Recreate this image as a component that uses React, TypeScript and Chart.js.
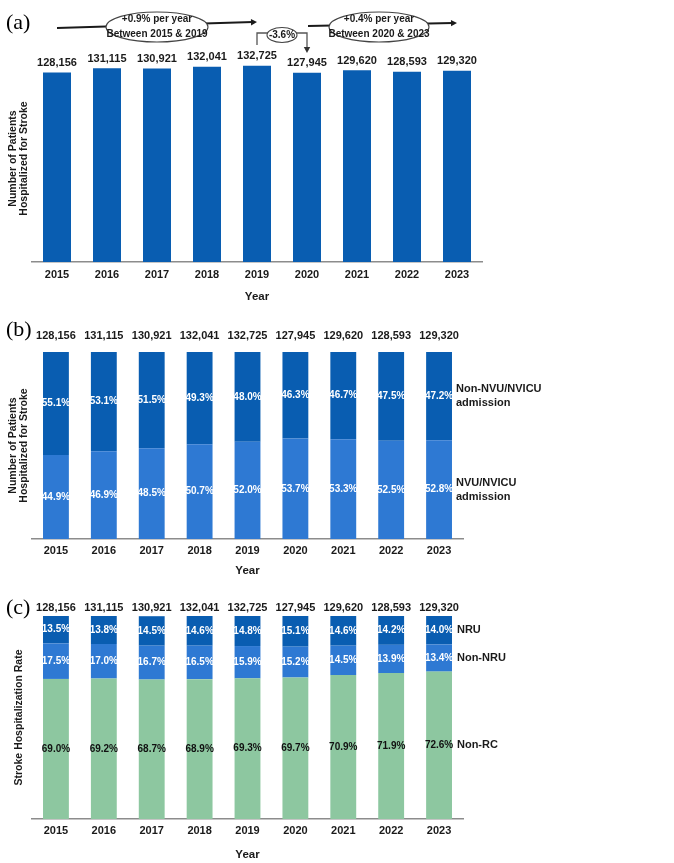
import { useEffect, useRef } from "react";
import { Chart, registerables } from "chart.js";

Chart.register(...registerables);

const years = ["2015", "2016", "2017", "2018", "2019", "2020", "2021", "2022", "2023"];
const totalPatients = [128156, 131115, 130921, 132041, 132725, 127945, 129620, 128593, 129320];
const nvuShare = [44.9, 46.9, 48.5, 50.7, 52.0, 53.7, 53.3, 52.5, 52.8];
const nonNvuShare = [55.1, 53.1, 51.5, 49.3, 48.0, 46.3, 46.7, 47.5, 47.2];
const nonRcShare = [69.0, 69.2, 68.7, 68.9, 69.3, 69.7, 70.9, 71.9, 72.6];
const nonNruShare = [17.5, 17.0, 16.7, 16.5, 15.9, 15.2, 14.5, 13.9, 13.4];
const nruShare = [13.5, 13.8, 14.5, 14.6, 14.8, 15.1, 14.6, 14.2, 14.0];
const trendNotes = [
  ["+0.9% per year", "Between 2015 & 2019"],
  ["+0.4% per year", "Between 2020 & 2023"],
];
const dropNote = "-3.6%";

const F = "'Liberation Sans', Arial, sans-serif";
const SERIF = "'Liberation Serif', 'DejaVu Serif', serif";
const TXT = "#1a1a1a";
const DARK = "#095db1";
const MID = "#2e79d3";
const GREEN = "#8dc7a0";

function fmt(n: number) {
  return n.toLocaleString("en-US");
}

function xScale(tickPad: number, titlePad: number, h: number) {
  return {
    stacked: true,
    offset: true,
    grid: { display: false, drawTicks: false },
    border: { display: true, color: "#8c8c8c", width: 1.5 },
    ticks: { color: TXT, font: { family: F, weight: "bold", size: 11, lineHeight: 1.2 }, padding: tickPad },
    title: {
      display: true,
      text: "Year",
      color: TXT,
      font: { family: F, weight: "bold", size: 11.5, lineHeight: 1.2 },
      padding: { top: 0, bottom: titlePad },
    },
    afterFit: (s: any) => {
      s.height = h;
    },
  };
}

function yScale(max: number, text: string | string[], padTop: number) {
  return {
    stacked: true,
    min: 0,
    max,
    grid: { display: false, drawTicks: false },
    border: { display: false },
    ticks: { display: false },
    title: {
      display: true,
      text,
      color: TXT,
      font: { family: F, weight: "bold", size: 10.5, lineHeight: 1.1 },
      padding: { top: padTop, bottom: 0 },
    },
    afterFit: (s: any) => {
      s.width = 32;
    },
  };
}

function labelsPlugin(panel: string, panelY: number, totalGap: number, sideGap: number) {
  return {
    id: "labels" + panel,
    afterDraw(chart: any) {
      const ctx = chart.ctx;
      ctx.save();
      ctx.font = `22px ${SERIF}`;
      ctx.fillStyle = "#000";
      ctx.textAlign = "left";
      ctx.textBaseline = "middle";
      ctx.fillText(`(${panel})`, 6, panelY);

      const metas = chart.data.datasets.map((_: any, i: number) => chart.getDatasetMeta(i));
      ctx.textAlign = "center";
      ctx.textBaseline = "middle";
      chart.data.datasets.forEach((ds: any, di: number) => {
        if (!ds.labelColor) return;
        ctx.font = `bold 10px ${F}`;
        ctx.fillStyle = ds.labelColor;
        metas[di].data.forEach((el: any, i: number) => {
          const v = ds.data[i];
          ctx.fillText(v.toFixed(1) + "%", el.x, (el.y + el.base) / 2);
        });
      });
      ctx.font = `bold 11px ${F}`;
      ctx.fillStyle = TXT;
      totalPatients.forEach((t, i) => {
        let top = Infinity;
        let x = 0;
        metas.forEach((m: any) => {
          const el = m.data[i];
          if (el && el.y < top) {
            top = el.y;
            x = el.x;
          }
        });
        ctx.fillText(fmt(t), x, top - totalGap);
      });
      ctx.textAlign = "left";
      ctx.font = `bold 11px ${F}`;
      chart.data.datasets.forEach((ds: any, di: number) => {
        if (!ds.sideLabel) return;
        const els = metas[di].data;
        const el = els[els.length - 1];
        const cy = (el.y + el.base) / 2;
        const lines: string[] = ds.sideLabel;
        const lh = 14;
        lines.forEach((ln, k) => {
          ctx.fillText(ln, el.x + el.width / 2 + sideGap, cy + (k - (lines.length - 1) / 2) * lh);
        });
      });
      ctx.restore();
    },
  };
}

function arrowHead(ctx: any, x: number, y: number, ang: number) {
  const L = 6;
  const W = 3.2;
  ctx.beginPath();
  ctx.moveTo(x, y);
  ctx.lineTo(x - L * Math.cos(ang) + W * Math.sin(ang), y - L * Math.sin(ang) - W * Math.cos(ang));
  ctx.lineTo(x - L * Math.cos(ang) - W * Math.sin(ang), y - L * Math.sin(ang) + W * Math.cos(ang));
  ctx.closePath();
  ctx.fill();
}

const trendPlugin = {
  id: "trend",
  afterDraw(chart: any) {
    const ctx = chart.ctx;
    const xs = chart.scales.x;
    const px = (i: number) => xs.getPixelForValue(i);
    ctx.save();
    ctx.strokeStyle = TXT;
    ctx.fillStyle = TXT;
    ctx.lineWidth = 2;
    const a1x0 = px(0), a1y0 = 28, a1x1 = px(4), a1y1 = 22;
    ctx.beginPath();
    ctx.moveTo(a1x0, a1y0);
    ctx.lineTo(a1x1 - 4, a1y1);
    ctx.stroke();
    arrowHead(ctx, a1x1, a1y1, Math.atan2(a1y1 - a1y0, a1x1 - a1x0));
    const a2x0 = px(5) + 1, a2y0 = 26, a2x1 = px(8), a2y1 = 23;
    ctx.beginPath();
    ctx.moveTo(a2x0, a2y0);
    ctx.lineTo(a2x1 - 4, a2y1);
    ctx.stroke();
    arrowHead(ctx, a2x1, a2y1, Math.atan2(a2y1 - a2y0, a2x1 - a2x0));
    const bx0 = px(4), bx1 = px(5);
    ctx.lineWidth = 1.3;
    ctx.strokeStyle = "#555";
    ctx.beginPath();
    ctx.moveTo(bx0, 45);
    ctx.lineTo(bx0, 33);
    ctx.lineTo(bx1, 33);
    ctx.lineTo(bx1, 47);
    ctx.stroke();
    ctx.fillStyle = "#333";
    arrowHead(ctx, bx1, 53, Math.PI / 2);

    const ell = (cx: number, cy: number, rx: number, ry: number) => {
      ctx.beginPath();
      ctx.ellipse(cx, cy, rx, ry, 0, 0, Math.PI * 2);
      ctx.fillStyle = "#fff";
      ctx.fill();
      ctx.strokeStyle = "#444";
      ctx.lineWidth = 1.1;
      ctx.stroke();
    };
    const e1x = px(2), e2x = (px(6) + px(7)) / 2 - 3, e3x = (bx0 + bx1) / 2;
    ell(e1x, 27, 51, 15);
    ell(e2x, 27, 50, 15);
    ell(e3x, 35, 15, 7.5);
    ctx.fillStyle = TXT;
    ctx.textAlign = "center";
    ctx.textBaseline = "middle";
    ctx.font = `bold 10px ${F}`;
    ctx.fillText(trendNotes[0][0], e1x, 19);
    ctx.fillText(trendNotes[0][1], e1x, 34);
    ctx.fillText(trendNotes[1][0], e2x, 19);
    ctx.fillText(trendNotes[1][1], e2x, 34);
    ctx.fillText(dropNote, e3x, 35.5);
    ctx.restore();
  },
};

const common = {
  responsive: false,
  maintainAspectRatio: false,
  animation: false,
  plugins: { legend: { display: false }, tooltip: { enabled: false } },
};

function makeA(canvas: HTMLCanvasElement) {
  return new Chart(canvas, {
    type: "bar",
    data: {
      labels: years,
      datasets: [
        { data: totalPatients, backgroundColor: DARK, borderWidth: 0, categoryPercentage: 1, barPercentage: 0.56 } as any,
      ],
    },
    options: {
      ...common,
      layout: { padding: { top: 55, right: 192, left: 0, bottom: 0 } },
      scales: {
        x: xScale(6.4, 6.1, 48) as any,
        y: yScale(140000, ["Number of Patients", "Hospitalized for Stroke"], 7.2) as any,
      },
    } as any,
    plugins: [labelsPlugin("a", 23, 9.5, 4), trendPlugin],
  });
}

function makeB(canvas: HTMLCanvasElement) {
  return new Chart(canvas, {
    type: "bar",
    data: {
      labels: years,
      datasets: [
        {
          data: nvuShare, backgroundColor: MID, borderWidth: 0, categoryPercentage: 1, barPercentage: 0.54,
          labelColor: "#ffffff", sideLabel: ["NVU/NVICU", "admission"],
        } as any,
        {
          data: nonNvuShare, backgroundColor: DARK, borderWidth: 0, categoryPercentage: 1, barPercentage: 0.54,
          labelColor: "#ffffff", sideLabel: ["Non-NVU/NVICU", "admission"],
        } as any,
      ],
    },
    options: {
      ...common,
      layout: { padding: { top: 42, right: 211, left: 0, bottom: 0 } },
      scales: {
        x: xScale(5.4, 7.1, 46) as any,
        y: yScale(100, ["Number of Patients", "Hospitalized for Stroke"], 7.2) as any,
      },
    } as any,
    plugins: [labelsPlugin("b", 20, 16, 4)],
  });
}

function makeC(canvas: HTMLCanvasElement) {
  return new Chart(canvas, {
    type: "bar",
    data: {
      labels: years,
      datasets: [
        {
          data: nonRcShare, backgroundColor: GREEN, borderWidth: 0, categoryPercentage: 1, barPercentage: 0.54,
          labelColor: "#111111", sideLabel: ["Non-RC"],
        } as any,
        {
          data: nonNruShare, backgroundColor: MID, borderWidth: 0, categoryPercentage: 1, barPercentage: 0.54,
          labelColor: "#ffffff", sideLabel: ["Non-NRU"],
        } as any,
        {
          data: nruShare, backgroundColor: DARK, borderWidth: 0, categoryPercentage: 1, barPercentage: 0.54,
          labelColor: "#ffffff", sideLabel: ["NRU"],
        } as any,
      ],
    },
    options: {
      ...common,
      layout: { padding: { top: 31, right: 211, left: 0, bottom: 0 } },
      scales: {
        x: xScale(5.4, 1.1, 44) as any,
        y: yScale(100, "Stroke Hospitalization Rate", 13.2) as any,
      },
    } as any,
    plugins: [labelsPlugin("c", 23, 8, 5)],
  });
}

export default function App() {
  const ra = useRef<HTMLCanvasElement>(null);
  const rb = useRef<HTMLCanvasElement>(null);
  const rc = useRef<HTMLCanvasElement>(null);
  useEffect(() => {
    const charts = [makeA(ra.current!), makeB(rb.current!), makeC(rc.current!)];
    return () => charts.forEach((c) => c.destroy());
  }, []);
  return (
    <div style={{ position: "absolute", left: 0, top: 0, width: 674, height: 863, background: "#fff" }}>
      <canvas ref={ra} width={674} height={310} style={{ position: "absolute", left: 0, top: 0, width: 674, height: 310 }} />
      <canvas ref={rb} width={674} height={275} style={{ position: "absolute", left: 0, top: 310, width: 674, height: 275 }} />
      <canvas ref={rc} width={674} height={278} style={{ position: "absolute", left: 0, top: 585, width: 674, height: 278 }} />
    </div>
  );
}
